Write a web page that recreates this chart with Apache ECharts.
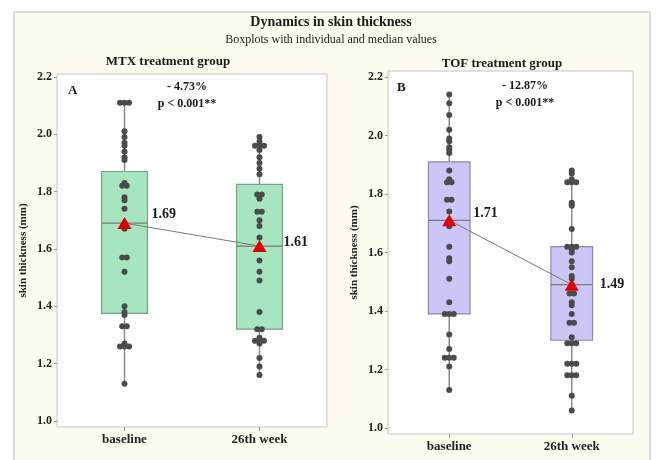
<!DOCTYPE html>
<html>
<head>
<meta charset="utf-8">
<script src="https://cdn.jsdelivr.net/npm/echarts@6/dist/echarts.min.js"></script>
<style>
html,body{margin:0;padding:0;background:#fff;}
#c{width:659px;height:460px;}
</style>
</head>
<body>
<div id="c"></div>
<script>
const categories = ['baseline', '26th week'];
const yTicks = [1.0, 1.2, 1.4, 1.6, 1.8, 2.0, 2.2];

// individual values
const mtxBaseline = [2.11,2.11,2.11,2.01,1.99,1.97,1.96,1.94,1.92,1.91,1.83,1.82,1.82,1.78,1.77,1.74,1.69,1.67,1.57,1.57,1.52,1.40,1.38,1.37,1.33,1.33,1.27,1.26,1.26,1.26,1.13];
const mtxWeek26 = [1.99,1.975,1.96,1.96,1.96,1.945,1.92,1.90,1.88,1.86,1.79,1.79,1.775,1.73,1.73,1.70,1.68,1.64,1.61,1.60,1.56,1.52,1.49,1.38,1.32,1.32,1.29,1.28,1.28,1.28,1.27,1.22,1.19,1.16];
const tofBaseline = [2.14,2.11,2.07,2.02,1.99,1.98,1.96,1.95,1.94,1.88,1.85,1.84,1.84,1.78,1.78,1.74,1.71,1.70,1.69,1.62,1.58,1.57,1.51,1.43,1.39,1.39,1.39,1.32,1.27,1.24,1.24,1.24,1.21,1.13];
const tofWeek26 = [1.88,1.87,1.85,1.84,1.84,1.84,1.77,1.765,1.76,1.68,1.62,1.62,1.62,1.61,1.60,1.57,1.55,1.52,1.51,1.49,1.48,1.46,1.46,1.43,1.42,1.39,1.36,1.36,1.31,1.29,1.29,1.29,1.22,1.22,1.22,1.18,1.18,1.18,1.11,1.06];

// box statistics: [min, q1, median, q3, max]
const mtxBox = [[1.13,1.375,1.69,1.87,2.11],[1.16,1.32,1.61,1.825,1.99]];
const tofBox = [[1.13,1.39,1.71,1.91,2.14],[1.06,1.30,1.49,1.62,1.88]];
const mtxMedian = [1.69, 1.61];
const tofMedian = [1.71, 1.49];
const mtxChange = '- 4.73%';
const tofChange = '- 12.87%';
const pText = 'p < 0.001**';

const SERIF = '"Liberation Serif", "Times New Roman", serif';
const DOT_GAP = 4.5;

function dotData(values, cat) {
  const counts = {}, seen = {};
  values.forEach(v => { const k = v.toFixed(3); counts[k] = (counts[k] || 0) + 1; });
  return values.map(v => {
    const k = v.toFixed(3);
    const i = seen[k] = (seen[k] === undefined ? 0 : seen[k] + 1);
    const n = counts[k];
    return { value: [cat, v], symbolOffset: [(i - (n - 1) / 2) * DOT_GAP, 0] };
  });
}

function boxSeries(idx, stats, fill, stroke) {
  return {
    type: 'custom', xAxisIndex: idx, yAxisIndex: idx, z: 2,
    data: stats.map((s, i) => [i].concat(s)),
    renderItem: function (params, api) {
      const c = api.value(0);
      const pMin = api.coord([c, api.value(1)]);
      const pQ1 = api.coord([c, api.value(2)]);
      const pMed = api.coord([c, api.value(3)]);
      const pQ3 = api.coord([c, api.value(4)]);
      const pMax = api.coord([c, api.value(5)]);
      const w = api.size([1, 0])[0] * 0.34;
      const x = pMed[0];
      return {
        type: 'group',
        children: [
          { type: 'line', shape: { x1: x, y1: pMin[1], x2: x, y2: pMax[1] }, style: { stroke: '#8c8c8c', lineWidth: 1.5 } },
          { type: 'rect', shape: { x: x - w / 2, y: pQ3[1], width: w, height: pQ1[1] - pQ3[1] }, style: { fill: fill, stroke: stroke, lineWidth: 1.2 } },
          { type: 'line', shape: { x1: x - w / 2, y1: pMed[1], x2: x + w / 2, y2: pMed[1] }, style: { stroke: '#7a7a7a', lineWidth: 1.2 } }
        ]
      };
    }
  };
}

function dotSeries(idx, values, cat) {
  return {
    type: 'scatter', xAxisIndex: idx, yAxisIndex: idx, z: 3,
    symbolSize: 6, itemStyle: { color: '#4b4b4b', opacity: 1 },
    data: dotData(values, cat), silent: true
  };
}

function medianSeries(idx, medians, offsets) {
  return [{
    type: 'line', xAxisIndex: idx, yAxisIndex: idx, z: 4,
    data: medians, symbol: 'none', lineStyle: { color: '#7a7a7a', width: 1 }, silent: true
  }, {
    type: 'scatter', xAxisIndex: idx, yAxisIndex: idx, z: 5,
    symbol: 'triangle', symbolSize: [14, 12],
    itemStyle: { color: '#dd0000', opacity: 1 },
    data: medians.map((m, i) => ({
      value: [i, m],
      label: { show: true, position: 'right', distance: offsets[i][0], offset: [0, offsets[i][1]],
        formatter: m.toFixed(2), fontFamily: SERIF, fontWeight: 'bold', fontSize: 14, color: '#1a1a1a' }
    })),
    silent: true
  }];
}

function yAxis(idx, min, max) {
  return {
    type: 'value', gridIndex: idx, min: min, max: max,
    name: 'skin thickness (mm)', nameLocation: 'middle', nameGap: 28, nameRotate: 90,
    nameTextStyle: { fontFamily: SERIF, fontWeight: 'bold', fontSize: 11, color: '#222' },
    axisLine: { show: false },
    splitLine: { show: false },
    axisTick: { show: true, length: 3, lineStyle: { color: '#999' }, customValues: yTicks },
    axisLabel: { customValues: yTicks, formatter: v => v.toFixed(1), margin: 5,
      fontFamily: SERIF, fontWeight: 'bold', fontSize: 12, color: '#222' }
  };
}

function xAxis(idx) {
  return {
    type: 'category', gridIndex: idx, data: categories, boundaryGap: true,
    axisLine: { show: false },
    axisTick: { show: true, alignWithLabel: true, length: 4, lineStyle: { color: '#999' } },
    axisLabel: { margin: 6, fontFamily: SERIF, fontWeight: 'bold', fontSize: 13, color: '#222' }
  };
}

function txt(x, y, text, size, weight, align) {
  return { type: 'text', x: x, y: y, style: { text: text, fontFamily: SERIF, fontSize: size, fontWeight: weight,
    fill: '#1a1a1a', textAlign: align || 'center', textVerticalAlign: 'middle' }, z: 10 };
}

const chart = echarts.init(document.getElementById('c'), null, { renderer: 'canvas' });
chart.setOption({
  backgroundColor: '#ffffff',
  animation: false,
  graphic: [
    { type: 'rect', shape: { x: 14, y: 12, width: 636, height: 470 }, style: { fill: '#fefcf1', stroke: '#b8b8b8', lineWidth: 1 }, z: -10 },
    txt(331, 22, 'Dynamics in skin thickness', 14, 'bold'),
    txt(331, 40, 'Boxplots with individual and median values', 12, 'normal'),
    txt(168, 62, 'MTX treatment group', 13, 'bold'),
    txt(502, 64, 'TOF treatment group', 13, 'bold'),
    txt(68, 91, 'A', 13, 'bold', 'left'),
    txt(187, 87, mtxChange, 12, 'bold'),
    txt(187, 104, pText, 12, 'bold'),
    txt(397, 88, 'B', 13, 'bold', 'left'),
    txt(525, 86, tofChange, 12, 'bold'),
    txt(525, 103, pText, 12, 'bold')
  ],
  grid: [
    { left: 57, top: 74, width: 270, height: 353, show: true, backgroundColor: '#ffffff', borderColor: '#c4c4c4', borderWidth: 1 },
    { left: 388, top: 71, width: 245, height: 363, show: true, backgroundColor: '#ffffff', borderColor: '#c4c4c4', borderWidth: 1 }
  ],
  xAxis: [xAxis(0), xAxis(1)],
  yAxis: [yAxis(0, 0.979, 2.21), yAxis(1, 0.9795, 2.2205)],
  series: [
    boxSeries(0, mtxBox, '#a6e5bf', '#7d9f8a'),
    boxSeries(1, tofBox, '#cbc6f5', '#8c89ad'),
    dotSeries(0, mtxBaseline, 0),
    dotSeries(0, mtxWeek26, 1),
    dotSeries(1, tofBaseline, 0),
    dotSeries(1, tofWeek26, 1)
  ].concat(medianSeries(0, mtxMedian, [[20, -9], [17, -4]]))
   .concat(medianSeries(1, tofMedian, [[17, -7], [21, 0]]))
});
</script>
</body>
</html>
